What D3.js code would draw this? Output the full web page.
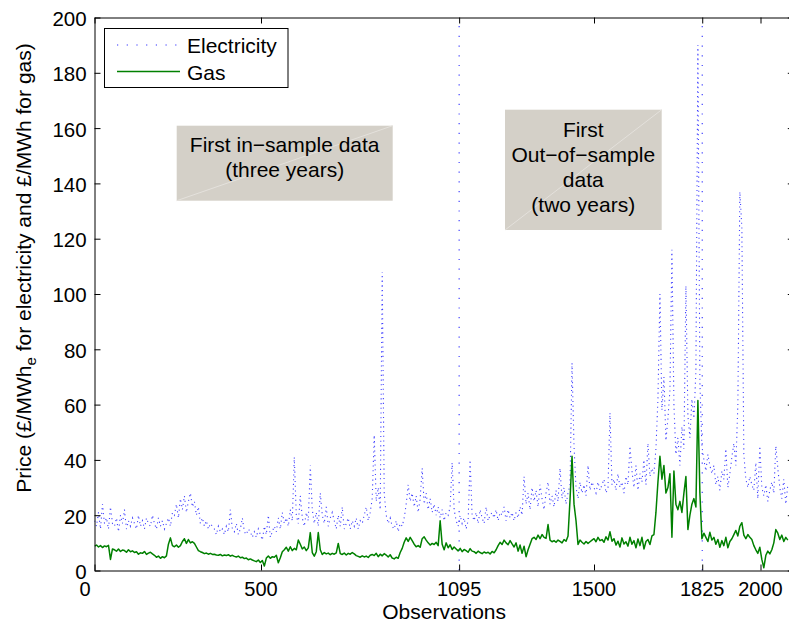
<!DOCTYPE html>
<html><head><meta charset="utf-8">
<script src="https://cdn.jsdelivr.net/npm/d3@7"></script>
<style>
body{margin:0;background:#fff}
svg{display:block}
text{font-family:"Liberation Sans",Arial,Helvetica,sans-serif;fill:#000}
</style>
</head><body>
<svg id="c" width="789" height="622"></svg>
<script>
// ---- data (one value every STEP observations) ----
const STEP = 6;
const seriesNames = ["Electricity", "Gas"];
const electricity = [
  18,16,21,15,24,17,19,15,23,17,   // 0
  16,19,14,20,17,22,15,18,16,19,   // 60
  17,15,20,16,18,15,19,17,16,20,   // 120
  17,15,19,16,18,15,17,19,16,21,   // 180
  20,24,19,26,22,27,21,25,28,23,   // 240
  25,20,23,17,19,16,18,15,17,16,   // 300
  15,13,16,14,15,13,16,14,22,15,   // 360
  14,17,13,15,19,14,13,15,14,12,   // 420
  14,12,15,13,11,16,13,20,12,14,   // 480
  16,14,19,15,21,17,19,16,22,18,   // 540
  41,20,17,27,19,16,21,18,38,22,   // 600
  17,21,16,28,20,17,23,16,19,21,   // 660
  18,15,20,16,23,15,17,19,15,18,   // 720
  16,19,15,18,17,20,23,18,21,26,   // 780
  49,25,30,22,108,28,20,17,19,16,  // 840
  15,18,14,17,16,19,24,31,25,28,   // 900
  23,27,21,26,37,24,28,22,26,21,   // 960
  24,20,23,19,22,18,21,20,23,39,   // 1020
  22,18,16,20,17,19,15,18,40,20,   // 1080
  18,21,17,22,19,17,23,18,20,21,   // 1140
  19,22,18,21,20,23,18,22,19,21,   // 1200
  18,21,19,23,20,34,24,28,22,30,   // 1260
  25,29,23,31,26,22,28,32,24,27,   // 1320
  23,29,25,37,26,30,24,28,31,75,   // 1380
  45,30,26,32,28,31,27,38,29,32,   // 1440
  30,28,32,29,31,33,28,30,57,31,   // 1500
  33,29,35,30,32,28,34,31,45,36,   // 1560
  30,38,29,35,32,40,31,46,34,37,   // 1620
  35,44,62,100,58,70,47,55,65,116, // 1680
  60,42,48,38,52,44,103,56,48,62,  // 1740
  55,72,190,68,45,40,36,42,38,35,  // 1800
  38,31,34,29,36,33,44,30,35,41,   // 1860
  46,38,60,137,124,42,33,30,34,31, // 1920
  29,39,26,45,30,27,31,25,29,32,   // 1980
  28,45,37,30,26,33,24,31          // 2040
];
const gas = [
  8.8,9.2,8.5,9,8.3,8.9,8.6,9.1,4,7.8,
  7.5,7,7.8,6.9,7.4,7.2,6.6,7.5,6.8,7.1,
  6.5,6.8,5.9,6.4,6.2,6.9,5.8,6.3,6.6,6,
  5.5,4.8,5.2,4.4,5,4.6,5.3,9.5,11.8,9,
  8.6,9.2,8.4,9,10.5,11.5,9.8,11.2,10,10.4,
  9.8,8.5,7.2,6.8,6.5,6.1,6.3,5.9,6.2,5.8,
  5.9,5.6,5.5,5.8,5.3,5.6,5.4,5.7,5.2,5.5,
  5.1,4.9,5.2,4.6,4.8,4.3,4.5,3.9,4.2,3.8,
  3.5,3.2,3.8,2.9,3.6,1.6,4.5,5.2,4.4,5,
  4.8,5.5,2.8,4.6,6.8,7.5,8.4,7,8.6,7.2,
  8,7.5,11,9.5,7.8,8.5,7.2,8.2,13.7,6.5,
  5.2,6.8,13.7,7.5,5.8,6.5,6,6.3,5.7,6.2,
  5.9,6.4,9.8,6.1,5.8,6.3,5.6,6.2,5.9,6.5,
  6,5.4,5.1,4.8,5.3,4.9,5.2,4.7,5.5,5.8,
  5.4,6.2,5,5.9,5.3,6.1,5.6,4.9,5.7,4.5,
  4.2,4.8,4.4,6.5,8,10.2,11.8,10.5,12,10.8,
  9.5,8.6,9,8.4,11.5,12.2,11,10,9.2,9.8,
  9.4,10.2,9,18,9.5,7.5,10,8.2,9.3,7.6,
  8.5,7.8,7.1,8,6.8,7.6,7.2,6.6,7.9,7,
  6.8,6.2,7,6.5,6.1,6.7,6.3,6.6,6,6.9,
  6.4,7.5,9,10.2,9.4,11,10,9.3,10.8,9.6,
  8.5,10,7,9.2,6.2,8.8,5,7.5,9.5,11.5,
  12,11.2,12.8,11.5,13,12,11.6,16.6,11,10.4,
  10.8,10.2,11,10.5,10,11.2,10.6,12.5,25.6,41.3,
  24,18,9.4,11,10.2,9.6,10.5,9.8,10.4,11,
  11.5,10.4,12,10.8,11.2,10.2,12.2,11,14,10.6,
  11.5,9.2,10.6,8.5,11.8,9.6,10.4,8.8,12,9.5,
  10.8,8.2,11.4,9,12,7.8,10.5,11.2,9.4,12.5,
  13,21,32,41.3,33,38,28,30,35,12,
  36,24,22,25,21,28,34,14.8,20,24,
  26,23,61.5,28,11.5,13.5,12,10.5,13.8,11,
  12,9.5,11.2,8.4,10.8,9,12,8.2,10.5,11.5,
  13,14.5,12.5,16,17.3,12.8,11.5,13,12,11.2,
  9,7.5,6.2,8.4,4,1,5.5,7,6,7.5,
  10,14.8,13.5,11.2,12.8,10.5,12,11
];
const markers = [1095, 1825];           // sample split lines
const xTicks = [0, 500, 1095, 1500, 1825, 2000];
const yTicks = [0, 20, 40, 60, 80, 100, 120, 140, 160, 180, 200];
const xDomain = [0, 2100];
const yDomain = [0, 200];

// ---- chart ----
const svg = d3.select("#c");
const x = d3.scaleLinear().domain(xDomain).range([94.5, 94.5 + 2100 * 0.333]);
const y = d3.scaleLinear().domain(yDomain).range([570.5, 17.5]);
const obs = electricity.map((_, i) => i * STEP);

svg.append("defs").append("clipPath").attr("id", "clip")
  .append("rect").attr("x", x(0)).attr("y", y(200))
  .attr("width", x(2100) - x(0)).attr("height", y(0) - y(200));

const plot = svg.append("g").attr("clip-path", "url(#clip)");
const line = d3.line().x(d => x(d[0])).y(d => y(d[1]));

plot.append("path")
  .datum(obs.map((o, i) => [o, electricity[i]]))
  .attr("d", line).attr("fill", "none")
  .attr("stroke", "#4040ff").attr("stroke-width", 1.1)
  .attr("stroke-dasharray", "1.1,3.6");

plot.selectAll("line.marker").data(markers).join("line")
  .attr("class", "marker")
  .attr("x1", d => x(d)).attr("x2", d => x(d))
  .attr("y1", y(0)).attr("y2", y(200))
  .attr("stroke", "#3030ff").attr("stroke-width", 1.1)
  .attr("stroke-dasharray", "1.2,8.5");

plot.append("path")
  .datum(obs.map((o, i) => [o, gas[i]]))
  .attr("d", line).attr("fill", "none")
  .attr("stroke", "#008000").attr("stroke-width", 1.5)
  .attr("stroke-linejoin", "round");

// axes (inward ticks on all four sides)
function styleAxis(g) {
  g.selectAll("path,line").attr("stroke", "#000").attr("stroke-width", 1);
  g.selectAll("text").remove();
}
svg.append("g").attr("transform", `translate(0,${y(0)})`)
  .call(d3.axisBottom(x).tickValues(xTicks).tickSize(-6).tickSizeOuter(0)).call(styleAxis);
svg.append("g").attr("transform", `translate(0,${y(200)})`)
  .call(d3.axisTop(x).tickValues(xTicks).tickSize(-6).tickSizeOuter(0)).call(styleAxis);
svg.append("g").attr("transform", `translate(${x(0)},0)`)
  .call(d3.axisLeft(y).tickValues(yTicks).tickSize(-6).tickSizeOuter(0)).call(styleAxis);
svg.append("g").attr("transform", `translate(${x(2100)},0)`)
  .call(d3.axisRight(y).tickValues(yTicks).tickSize(-6).tickSizeOuter(0)).call(styleAxis);

// tick labels
svg.append("g").selectAll("text").data(xTicks).join("text")
  .attr("x", d => x(d) + (d === 0 ? -9.5 : 0))
  .attr("y", 596).attr("text-anchor", "middle")
  .attr("font-size", 20).text(d => d);
svg.append("g").selectAll("text").data(yTicks).join("text")
  .attr("x", 86.7).attr("y", d => y(d) + 8.4).attr("text-anchor", "end")
  .attr("font-size", 20.5).text(d => d);

// axis titles
svg.append("text").attr("x", (x(0) + x(2100)) / 2).attr("y", 619)
  .attr("text-anchor", "middle").attr("font-size", 21).text("Observations");
const yl = svg.append("text").attr("transform", "translate(31,268) rotate(-90)")
  .attr("text-anchor", "middle").attr("font-size", 21);
yl.append("tspan").text("Price (£/MWh");
yl.append("tspan").attr("dy", 5).attr("font-size", 15).text("e");
yl.append("tspan").attr("dy", -5).text(" for electricity and £/MWh for gas)");

// annotation boxes
function noteBox(x0, y0, x1, y1, lines, cx, firstBase) {
  const g = svg.append("g");
  g.append("rect").attr("x", x0).attr("y", y0).attr("width", x1 - x0).attr("height", y1 - y0)
    .attr("fill", "#d4d0c8");
  g.append("line").attr("x1", x0).attr("y1", y1).attr("x2", x1).attr("y2", y0)
    .attr("stroke", "#e4e1dc").attr("stroke-width", 1);
  g.selectAll("text").data(lines).join("text")
    .attr("x", cx).attr("y", (d, i) => firstBase + i * 25)
    .attr("text-anchor", "middle").attr("font-size", 21).text(d => d);
}
noteBox(176.7, 125.7, 392.7, 200.7, ["First in\u2212sample data", "(three years)"], 284.7, 152);
noteBox(505, 109.7, 661.7, 230, ["First", "Out\u2212of\u2212sample", "data", "(two years)"], 583.3, 136.7);

// legend
const lg = svg.append("g");
lg.append("rect").attr("x", 104.5).attr("y", 28.5).attr("width", 183.5).attr("height", 59)
  .attr("fill", "#fff").attr("stroke", "#000").attr("stroke-width", 1);
lg.append("line").attr("x1", 117).attr("x2", 180).attr("y1", 45).attr("y2", 45)
  .attr("stroke", "#3030ff").attr("stroke-width", 1.1).attr("stroke-dasharray", "1.2,8.5");
lg.append("line").attr("x1", 117).attr("x2", 180).attr("y1", 71.5).attr("y2", 71.5)
  .attr("stroke", "#008000").attr("stroke-width", 1.5);
lg.append("text").attr("x", 187).attr("y", 53).attr("font-size", 21).text(seriesNames[0]);
lg.append("text").attr("x", 187).attr("y", 80).attr("font-size", 21).text(seriesNames[1]);
</script>
</body></html>
